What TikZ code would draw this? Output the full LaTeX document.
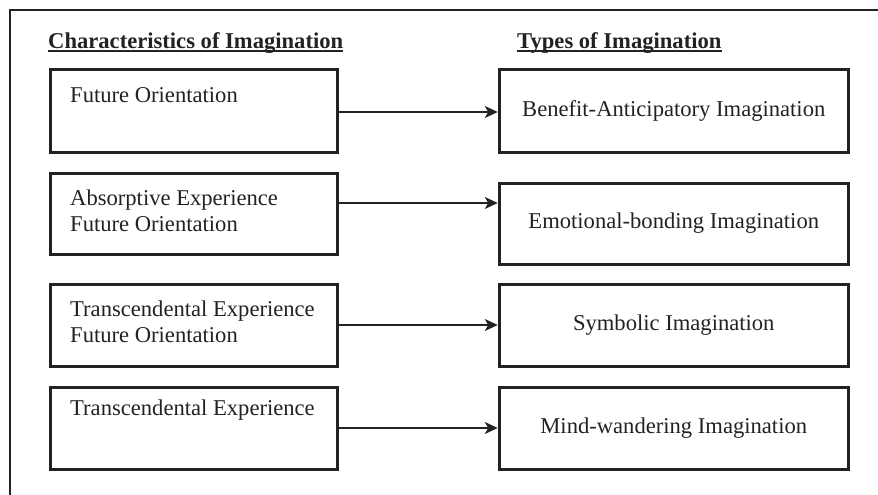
\documentclass[tikz,border=0pt]{standalone}
\usepackage{fontspec}
\setmainfont{Liberation Serif}
\usetikzlibrary{arrows.meta,calc}
\definecolor{ink}{HTML}{222222}
\begin{document}
\begin{tikzpicture}[x=1pt,y=-1pt,
  font=\fontsize{22.6}{26}\selectfont,
  every node/.style={text=ink},
  lbox/.style={draw=ink, line width=3pt, minimum width=287pt, minimum height=82pt, inner sep=0pt},
  rbox/.style={draw=ink, line width=3pt, minimum width=349pt, minimum height=82pt, inner sep=0pt},
  ltext/.style={anchor=base west, inner sep=0pt, align=left},
  head/.style={anchor=base west, inner sep=0pt, font=\fontsize{22.6}{26}\selectfont\bfseries},
  uline/.style={draw=ink, line width=1.4pt},
  conn/.style={draw=ink, line width=1.3pt, -{Stealth[length=13pt,width=12pt,inset=3.5pt]}},
  frame/.style={draw=ink, line width=2pt}]
\useasboundingbox (0,0) rectangle (878,495);
% outer frame (top and left edges)
\draw[frame] (10,495) -- (10,10) -- (878,10);
% headings
\node[head] (h1) at (48,48.5) {Characteristics of Imagination};
\node[head] (h2) at (517,48.5) {Types of Imagination};
\draw[uline] ([yshift=-2.6pt]h1.base west) -- ([yshift=-2.6pt]h1.base east);
\draw[uline] ([yshift=-2.6pt]h2.base west) -- ([yshift=-2.6pt]h2.base east);
% left boxes
\node[lbox] (l1) at (193.5,111) {};
\node[lbox, minimum height=81pt] (l2) at (193.5,213.5) {};
\node[lbox] (l3) at (193.5,325) {};
\node[lbox] (l4) at (193.5,428) {};
\node[ltext] (t1) at (70,102) {Future Orientation};
\node[ltext] (t2) at (70,231) {Absorptive Experience\\Future Orientation};
\node[ltext] (t3) at (70,342) {Transcendental Experience\\Future Orientation};
\node[ltext] (t4) at (70,415) {Transcendental Experience};
% right boxes
\node[rbox] (r1) at (673.75,111) {Benefit-Anticipatory Imagination};
\node[rbox, minimum height=81pt] (r2) at (673.75,223.5) {Emotional-bonding Imagination};
\node[rbox] (r3) at (673.75,325) {Symbolic Imagination};
\node[rbox] (r4) at (673.75,428) {Mind-wandering Imagination};
% connectors
\draw[conn] ([yshift=-1pt]l1.east) -- ([yshift=-1pt]l1.east -| r1.west);
\draw[conn] ([yshift=10.5pt]l2.east) -- ([yshift=10.5pt]l2.east -| r2.west);
\draw[conn] (l3.east) -- (l3.east -| r3.west);
\draw[conn] (l4.east) -- (l4.east -| r4.west);
\end{tikzpicture}
\end{document}
